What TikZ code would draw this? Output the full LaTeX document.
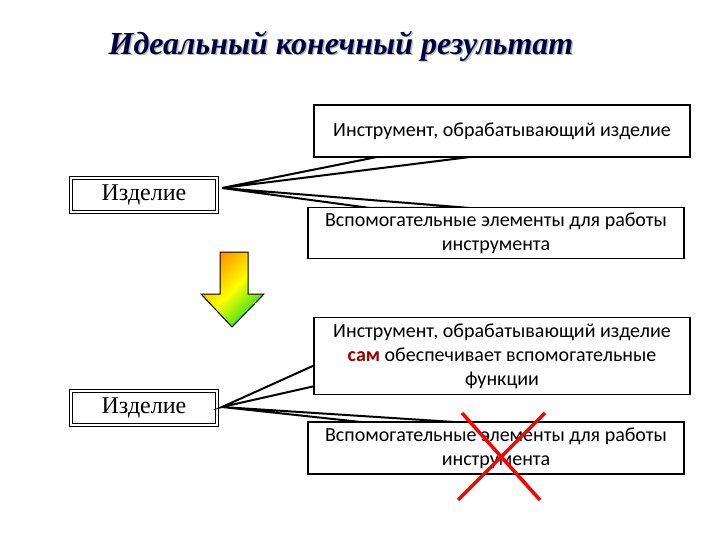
\documentclass[tikz,border=0pt]{standalone}
\usepackage{fontspec}
\setmainfont{Liberation Serif}
\newfontfamily\calib{Carlito}
\pgfdeclarehorizontalshading{arrowgrad}{100bp}{color(0bp)=(red!70!orange); color(35bp)=(orange!80!yellow); color(50bp)=(yellow); color(68bp)=(green!70!teal); color(100bp)=(teal!80!black)}
\begin{document}
\begin{tikzpicture}[x=1pt,y=-1pt,
 callbox/.style={draw,line width=1.3pt,fill=white,font=\calib\fontsize{20}{24}\selectfont,align=center,inner sep=0pt},
 prodbox/.style={draw,double,double distance=1.6pt,line width=1pt,fill=white,font=\fontsize{24}{28}\selectfont,minimum width=146,minimum height=34,inner sep=0pt},
 wedge/.style={fill=white,draw,line width=2pt,line join=miter}]
\useasboundingbox (0,0) rectangle (720,540);
% title with shadow
\node[font=\bfseries\itshape\fontsize{32}{36}\selectfont,text=blue!25!black] (title) at (341,47) {\rlap{\kern1.5pt\raisebox{-1.5pt}{\color{gray!55}Идеальный конечный результат}}Идеальный конечный результат};
% products
\node[prodbox] (p1) at (144,195) {Изделие};
\node[prodbox] (p2) at (144,408) {Изделие};
% top callouts
\coordinate (t1) at (222,188);
\draw[wedge] (t1) -- (377,157) -- (470,157) -- cycle;
\draw[wedge] (t1) -- (370,208) -- (470,208) -- cycle;
\node[callbox,minimum width=376,minimum height=52] (b1) at (502,131) {Инструмент, обрабатывающий изделие};
\node[callbox,minimum width=376,minimum height=51] (b2) at (496,233) {Вспомогательные элементы для работы\\инструмента};
% bottom callouts
\coordinate (t2) at (222,407);
\draw[wedge] (t2) -- (315,365) -- (315,386) -- cycle;
\draw[wedge] (t2) -- (370,423) -- (470,423) -- cycle;
\node[callbox,minimum width=376,minimum height=77] (b3) at (502,356) {Инструмент, обрабатывающий изделие\\{\color{red!60!black}\bfseries сам} обеспечивает вспомогательные\\функции};
\node[callbox,minimum width=376,minimum height=52] (b4) at (496,448) {Вспомогательные элементы для работы\\инструмента};
% cross
\draw[red,line width=3.5pt] (462,413) -- (540,500) (545,413) -- (458,500);
% arrow
\begin{scope}
\clip (220,252) -- (248,252) -- (248,294) -- (264,294) -- (232,327) -- (201,294) -- (220,294) -- cycle;
\shade[shading=arrowgrad,shading angle=-45] (180,235) rectangle (285,345);
\end{scope}
\draw[line width=1pt] (220,252) -- (248,252) -- (248,294) -- (264,294) -- (232,327) -- (201,294) -- (220,294) -- cycle;
\end{tikzpicture}
\end{document}
